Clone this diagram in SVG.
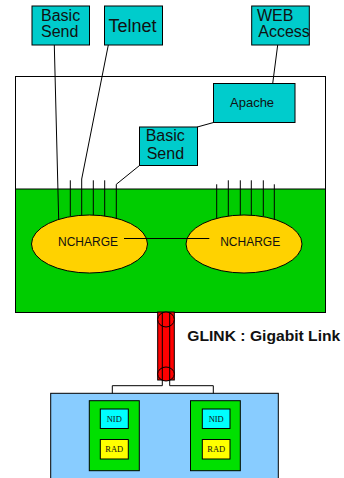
<svg xmlns="http://www.w3.org/2000/svg" width="344" height="478" viewBox="0 0 344 478">
<style>
.box{fill:#00CCCC;stroke:#000;stroke-width:1}
.ln{fill:none;stroke:#000;stroke-width:1}
.t{font-family:"Liberation Sans",Arial,sans-serif;fill:#111}
.s{font-family:"Liberation Serif","Times New Roman",serif;font-size:8.5px;fill:#111;text-anchor:middle}
.card{fill:#00E000;stroke:#000;stroke-width:1}
</style>
<rect width="344" height="478" fill="#fff"/>
<g id="server">
<rect x="15.5" y="76.5" width="310" height="236" fill="#fff" stroke="#000"/>
<rect x="15.5" y="189" width="310" height="123.5" fill="#00CC00" stroke="#000"/>
</g>
<g id="connectors">
<path class="ln" d="M54.3 45 L58.7 220"/>
<path class="ln" d="M108.3 45 L81.7 179 L81.7 216"/>
<path class="ln" d="M277.7 45 L272.7 83.5"/>
<path class="ln" d="M213.5 122.5 L197.3 127"/>
<path class="ln" d="M139.5 165.5 L116.3 184.3 L116.3 219"/>
<path class="ln" d="M70.3 180.3 V216 M93.3 180.3 V215.2 M104.7 180.3 V216"/>
<path class="ln" d="M216.7 184.3 V219 M228.3 180.3 V216 M240.3 180.3 V215.2 M251.3 180.3 V215.2 M263.3 180.3 V216 M274.3 184.3 V219"/>
<path class="ln" d="M162.3 381 V385.7 H112.3 V400.7 M169.7 381 V385.7 H213.3 V400.7"/>
</g>
<g id="basic-send-top">
<rect class="box" x="32" y="6" width="57.5" height="39"/>
<text class="t" font-size="16" x="41" y="20.7">Basic</text>
<text class="t" font-size="16" x="41" y="36.7">Send</text>
</g>
<g id="telnet">
<rect class="box" x="104.5" y="6" width="58" height="39"/>
<text class="t" font-size="18" x="108.5" y="31.7">Telnet</text>
</g>
<g id="web-access">
<rect class="box" x="251.7" y="6" width="57.6" height="39"/>
<text class="t" font-size="16" x="257" y="20.7">WEB</text>
<text class="t" font-size="16" x="258.3" y="36.7">Access</text>
</g>
<g id="apache">
<rect class="box" x="213.5" y="83.5" width="81.5" height="39"/>
<text class="t" font-size="13" x="230" y="106.7">Apache</text>
</g>
<g id="basic-send-inner">
<rect class="box" x="139.5" y="127" width="58" height="38.5"/>
<text class="t" font-size="16" x="145.7" y="140.7">Basic</text>
<text class="t" font-size="16" x="146.7" y="159.3">Send</text>
</g>
<g id="ncharge-left">
<ellipse cx="89.5" cy="244" rx="58" ry="29" fill="#FFD200" stroke="#000"/>
<text class="t" font-size="12" x="88" y="246" text-anchor="middle">NCHARGE</text>
</g>
<g id="ncharge-right">
<ellipse cx="244" cy="244" rx="58" ry="29" fill="#FFD200" stroke="#000"/>
<text class="t" font-size="12" x="250.2" y="246" text-anchor="middle">NCHARGE</text>
</g>
<path class="ln" d="M124 238.5 H209.3"/>
<g id="glink">
<rect x="157.7" y="312" width="16.6" height="68" fill="#FF0000" stroke="#000"/>
<ellipse cx="166" cy="319.5" rx="8.3" ry="7.5" fill="#FF0000" stroke="#000"/>
<ellipse cx="166" cy="374" rx="8.3" ry="7" fill="#FF0000" stroke="#000"/>
<path class="ln" d="M162.3 312 V381 M169.7 312 V381"/>
<text class="t" font-size="14" font-weight="bold" x="187.3" y="341" textLength="153" lengthAdjust="spacingAndGlyphs">GLINK : Gigabit Link</text>
</g>
<g id="client">
<rect x="50.7" y="393.3" width="227.6" height="90" fill="#88CCFF" stroke="#000"/>
</g>
<g id="card-left">
<rect class="card" x="89.3" y="400.7" width="50" height="70"/>
<rect x="100.3" y="409" width="28" height="19.5" fill="#00FFFF" stroke="#000"/>
<text class="s" x="114.3" y="421.5">NID</text>
<rect x="100.3" y="439.5" width="28" height="19.5" fill="#FFFF00" stroke="#000"/>
<text class="s" x="114.3" y="452">RAD</text>
</g>
<g id="card-right">
<rect class="card" x="190.5" y="400.7" width="49.8" height="70"/>
<rect x="202.3" y="409" width="27.7" height="19.5" fill="#00FFFF" stroke="#000"/>
<text class="s" x="216.2" y="421.5">NID</text>
<rect x="202.3" y="439.5" width="27.7" height="19.5" fill="#FFFF00" stroke="#000"/>
<text class="s" x="216.2" y="452">RAD</text>
</g>
</svg>
